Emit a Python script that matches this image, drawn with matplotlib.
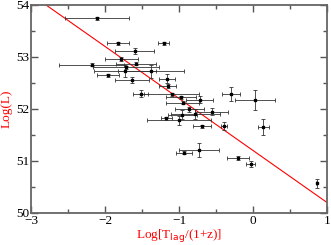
import numpy as np
import matplotlib.pyplot as plt

# log lag (x), log luminosity (y) with errors
log_tlag = [-2.11, -1.83, -1.21, -1.60, -1.78, -2.18, -1.58, -1.72, -1.73, -1.38,
            -1.96, -1.63, -1.16, -1.155, -1.52, -1.10, -0.97, -0.72, -0.30, 0.03,
            -0.95, -0.86, -0.56, -0.78, -0.955, -1.17, -1.00, -0.69, -0.39, 0.14,
            -0.93, -0.73, -0.20, -0.03, 0.86]
log_l = [53.74, 53.26, 53.26, 53.12, 52.96, 52.85, 52.87, 52.80, 52.73, 52.72,
         52.65, 52.56, 52.58, 52.44, 52.29, 52.28, 52.22, 52.18, 52.29, 52.17,
         52.12, 51.99, 51.95, 51.90, 51.89, 51.82, 51.78, 51.67, 51.67, 51.65,
         51.16, 51.21, 51.06, 50.94, 50.57]
x_err = [0.43, 0.15, 0.075, 0.26, 0.22, 0.44, 0.27, 0.45, 0.42, 0.45,
         0.15, 0.23, 0.11, 0.11, 0.10, 0.37, 0.20, 0.18, 0.12, 0.27,
         0.22, 0.20, 0.22, 0.33, 0.20, 0.075, 0.43, 0.115, 0.04, 0.07,
         0.11, 0.27, 0.15, 0.06, 0.01]
y_err = [0.03, 0.03, 0.03, 0.06, 0.03, 0.03, 0.03, 0.03, 0.12, 0.12,
         0.03, 0.06, 0.09, 0.03, 0.07, 0.03, 0.03, 0.07, 0.14, 0.20,
         0.03, 0.05, 0.06, 0.10, 0.09, 0.03, 0.09, 0.03, 0.08, 0.16,
         0.03, 0.13, 0.04, 0.05, 0.09]

# best fit line
fit_x = [-3, 1]
fit_intercept = 51.2
fit_slope = -1.0

plt.rcParams['font.family'] = ['Liberation Serif', 'DejaVu Serif']

fig = plt.figure(figsize=(3.31, 2.45), dpi=100)
ax = fig.add_axes([0.094, 0.131, 0.894, 0.849])

ax.errorbar(log_tlag, log_l, xerr=x_err, yerr=y_err, fmt='s', ms=1.5,
            color='black', ecolor='#333333', elinewidth=0.6, capsize=1.3,
            capthick=0.6, zorder=3)
fx = np.array(fit_x)
ax.plot(fx, fit_intercept + fit_slope * fx, color='red', lw=0.8, zorder=2)

ax.set_xlim(-3, 1)
ax.set_ylim(50, 54)
ax.set_xticks([-3, -2, -1, 0, 1])
ax.set_yticks([50, 51, 52, 53, 54])
ax.set_xticks(np.arange(-3, 1.01, 0.5), minor=True)
ax.set_yticks(np.arange(50, 54.01, 0.5), minor=True)
ax.tick_params(which='both', direction='in', top=True, right=True,
               color='#555555', labelsize=9.5, pad=1.5)
ax.tick_params(which='major', length=5, width=1)
ax.tick_params(which='minor', length=3, width=1)
for s in ax.spines.values():
    s.set_color('#666666')
    s.set_linewidth(1.3)

ax.set_xlabel('Log[T$_{\\rm lag}$/(1+z)]', color='red', fontsize=9.5, labelpad=0)
ax.set_ylabel('Log(L)', color='red', fontsize=9.5, labelpad=2)

fig.savefig('out.png', dpi=100)
